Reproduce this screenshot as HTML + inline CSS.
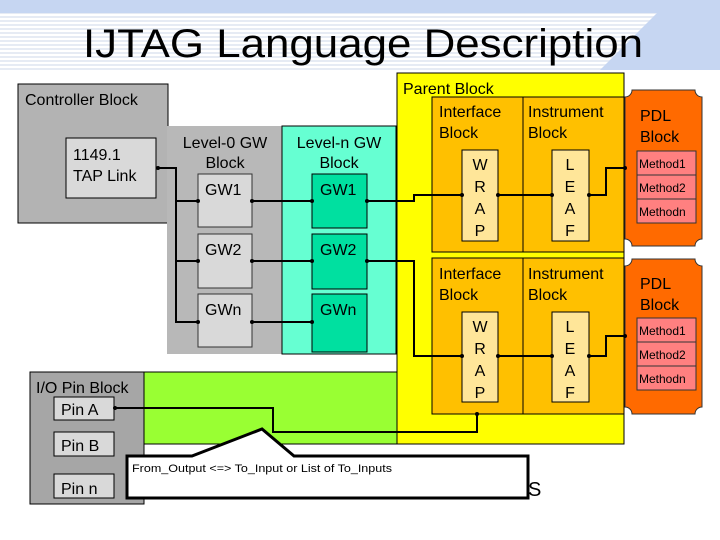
<!DOCTYPE html>
<html><head><meta charset="utf-8"><style>
html,body{margin:0;padding:0;background:#fff;}
svg{display:block;}
text{font-family:"Liberation Sans","DejaVu Sans",sans-serif;}
</style></head><body>
<svg width="720" height="540" viewBox="0 0 720 540" xmlns="http://www.w3.org/2000/svg">
<defs>
<pattern id="st" width="4" height="4" patternUnits="userSpaceOnUse"><rect width="4" height="4" fill="#ffffff"/><rect width="4" height="2" fill="#e6ebf4"/></pattern>
</defs>
<rect x="0" y="0" width="720" height="13" fill="#c6d6f2"/>
<rect x="0" y="13" width="720" height="57" fill="url(#st)"/>
<polygon points="657,13 720,13 720,70 600,70" fill="#c6d6f2"/>
<text x="363" y="57" font-size="40" text-anchor="middle" textLength="560" lengthAdjust="spacingAndGlyphs">IJTAG Language Description</text>

<!-- Controller -->
<rect x="18" y="84" width="150" height="139" fill="#b3b3b3" stroke="#000" stroke-width="1"/>
<text x="25" y="105" font-size="16">Controller Block</text>
<rect x="66" y="138" width="90" height="60" fill="#d9d9d9" stroke="#000"/>
<text x="73" y="160" font-size="16">1149.1</text>
<text x="73" y="181" font-size="16">TAP Link</text>

<!-- Level-0 -->
<rect x="167" y="126" width="115" height="228" fill="#b8b8b8"/>
<text x="225" y="148" font-size="16" text-anchor="middle">Level-0 GW</text>
<text x="225" y="168" font-size="16" text-anchor="middle">Block</text>
<rect x="198" y="174" width="54" height="53" fill="#d9d9d9" stroke="#333"/>
<rect x="198" y="234" width="54" height="54" fill="#d9d9d9" stroke="#333"/>
<rect x="198" y="294" width="54" height="53" fill="#d9d9d9" stroke="#333"/>
<text x="205" y="195" font-size="16">GW1</text>
<text x="205" y="255" font-size="16">GW2</text>
<text x="205" y="315" font-size="16">GWn</text>

<!-- Level-n -->
<rect x="282" y="126" width="114" height="228" fill="#66ffd2" stroke="#000"/>
<text x="339" y="148" font-size="16" text-anchor="middle">Level-n GW</text>
<text x="339" y="168" font-size="16" text-anchor="middle">Block</text>
<rect x="312" y="174" width="55" height="54" fill="#00e0a0" stroke="#000"/>
<rect x="312" y="234" width="55" height="55" fill="#00e0a0" stroke="#000"/>
<rect x="312" y="294" width="55" height="58" fill="#00e0a0" stroke="#000"/>
<text x="320" y="195" font-size="16">GW1</text>
<text x="320" y="255" font-size="16">GW2</text>
<text x="320" y="315" font-size="16">GWn</text>

<!-- Parent -->
<rect x="397" y="73" width="227" height="371" fill="#ffff00" stroke="#000"/>
<text x="403" y="94" font-size="16">Parent Block</text>
<rect x="432" y="97" width="91" height="155" fill="#ffc000" stroke="#000"/>
<rect x="523" y="97" width="101" height="155" fill="#ffc000" stroke="#000"/>
<rect x="432" y="258" width="91" height="156" fill="#ffc000" stroke="#000"/>
<rect x="523" y="258" width="101" height="156" fill="#ffc000" stroke="#000"/>
<g font-size="16">
<text x="439" y="117">Interface</text><text x="439" y="138">Block</text>
<text x="528" y="117">Instrument</text><text x="528" y="138">Block</text>
<text x="439" y="279">Interface</text><text x="439" y="300">Block</text>
<text x="528" y="279">Instrument</text><text x="528" y="300">Block</text>
</g>
<rect x="462" y="150" width="36" height="91" fill="#ffe699" stroke="#000"/>
<rect x="552" y="150" width="37" height="91" fill="#ffe699" stroke="#000"/>
<rect x="462" y="312" width="36" height="90" fill="#ffe699" stroke="#000"/>
<rect x="552" y="312" width="37" height="90" fill="#ffe699" stroke="#000"/>
<g font-size="16" text-anchor="middle">
<text x="480" y="170">W</text><text x="480" y="192">R</text><text x="480" y="214">A</text><text x="480" y="236">P</text>
<text x="570" y="170">L</text><text x="570" y="192">E</text><text x="570" y="214">A</text><text x="570" y="236">F</text>
<text x="480" y="332">W</text><text x="480" y="354">R</text><text x="480" y="376">A</text><text x="480" y="398">P</text>
<text x="570" y="332">L</text><text x="570" y="354">E</text><text x="570" y="376">A</text><text x="570" y="398">F</text>
</g>

<!-- PDL -->
<g fill="#ff6a00" stroke="#333" stroke-width="1">
<path d="M632,90 H695 A7,7 0 0 0 702,97 V239 A7,7 0 0 0 695,246 H632 A7,7 0 0 0 625,239 V97 A7,7 0 0 0 632,90 Z"/>
<path d="M632,259 H695 A7,7 0 0 0 702,266 V407 A7,7 0 0 0 695,414 H632 A7,7 0 0 0 625,407 V266 A7,7 0 0 0 632,259 Z"/>
</g>
<g font-size="16"><text x="640" y="121">PDL</text><text x="640" y="142">Block</text>
<text x="640" y="289">PDL</text><text x="640" y="310">Block</text></g>
<g fill="#ff8080" stroke="#333">
<rect x="637" y="151" width="59" height="24"/><rect x="637" y="175" width="59" height="24"/><rect x="637" y="199" width="59" height="24"/>
<rect x="637" y="318" width="59" height="24"/><rect x="637" y="342" width="59" height="24"/><rect x="637" y="366" width="59" height="24"/>
</g>
<g font-size="12" font-family="DejaVu Sans,sans-serif">
<text x="639" y="168">Method1</text><text x="639" y="192">Method2</text><text x="639" y="216">Methodn</text>
<text x="639" y="335">Method1</text><text x="639" y="359">Method2</text><text x="639" y="383">Methodn</text>
</g>

<!-- green + IO -->
<rect x="144" y="372" width="253" height="72" fill="#99ff33" stroke="#000"/>
<rect x="30" y="372" width="114" height="132" fill="#a6a6a6" stroke="#000"/>
<text x="36" y="393" font-size="16">I/O Pin Block</text>
<rect x="54" y="397" width="60" height="23" fill="#d9d9d9" stroke="#000"/>
<rect x="54" y="432" width="60" height="24" fill="#d9d9d9" stroke="#000"/>
<rect x="54" y="474" width="60" height="24" fill="#d9d9d9" stroke="#000"/>
<text x="61" y="415" font-size="16">Pin A</text>
<text x="61" y="451" font-size="16">Pin B</text>
<text x="61" y="494" font-size="16">Pin n</text>

<!-- connectors -->
<g fill="none" stroke="#000" stroke-width="2">
<polyline points="158,168 176,168 176,322 198,322"/>
<line x1="176" y1="201" x2="198" y2="201"/><line x1="176" y1="261" x2="198" y2="261"/>
<line x1="252" y1="201" x2="312" y2="201"/><line x1="252" y1="261" x2="312" y2="261"/><line x1="252" y1="322" x2="312" y2="322"/>
<polyline points="367,201 414,201 414,195 462,195"/>
<polyline points="367,261 414,261 414,356 462,356"/>
<line x1="498" y1="195" x2="552" y2="195"/><line x1="498" y1="356" x2="552" y2="356"/>
<polyline points="589,195 606,195 606,168 625,168"/>
<polyline points="589,356 606,356 606,336 625,336"/>
<polyline points="115,408 273,408 273,432 477,432 477,414"/>
</g>
<g fill="#000">
<circle cx="158" cy="168" r="2"/><circle cx="198" cy="201" r="2"/><circle cx="198" cy="261" r="2"/><circle cx="198" cy="322" r="2"/>
<circle cx="252" cy="201" r="2"/><circle cx="252" cy="261" r="2"/><circle cx="252" cy="322" r="2"/>
<circle cx="312" cy="201" r="2"/><circle cx="312" cy="261" r="2"/><circle cx="312" cy="322" r="2"/>
<circle cx="367" cy="201" r="2"/><circle cx="367" cy="261" r="2"/>
<circle cx="462" cy="195" r="2"/><circle cx="498" cy="195" r="2"/><circle cx="552" cy="195" r="2"/><circle cx="589" cy="195" r="2"/><circle cx="625" cy="168" r="2"/>
<circle cx="462" cy="356" r="2"/><circle cx="498" cy="356" r="2"/><circle cx="552" cy="356" r="2"/><circle cx="589" cy="356" r="2"/><circle cx="625" cy="336" r="2"/>
<circle cx="115" cy="408" r="2"/><circle cx="477" cy="414" r="2"/>
</g>

<!-- callout -->
<text x="528" y="496" font-size="20">S</text>
<path d="M127,456 H192 L262,429 L294,456 H528 V498 H127 Z" fill="#fff" stroke="#000" stroke-width="3"/>
<text x="132" y="472" font-size="11" textLength="260" lengthAdjust="spacingAndGlyphs">From_Output &lt;=&gt; To_Input or List of To_Inputs</text>
</svg>
</body></html>
